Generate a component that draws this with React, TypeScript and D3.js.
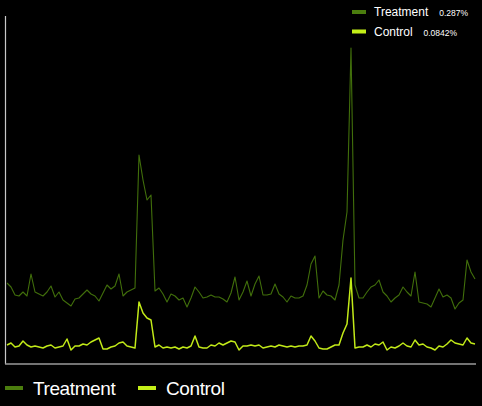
import React from "react";
import * as d3 from "d3";

const seriesNames = ["Treatment", "Control"];
const seriesColors = ["#4b7d0e", "#c4ef18"];
const lineColors = ["#416f0b", "#c2ea18"];
const hoverValues = ["0.287%", "0.0842%"];

const treatment = [
  0.080,0.076,0.068,0.067,0.071,0.067,0.089,0.071,0.069,0.067,
  0.071,0.077,0.066,0.071,0.063,0.060,0.057,0.064,0.065,0.069,
  0.073,0.069,0.067,0.062,0.070,0.078,0.074,0.077,0.089,0.067,
  0.071,0.073,0.075,0.208,0.183,0.163,0.168,0.072,0.075,0.069,
  0.061,0.069,0.067,0.063,0.065,0.056,0.065,0.076,0.071,0.065,
  0.066,0.068,0.066,0.066,0.064,0.061,0.070,0.086,0.063,0.071,
  0.082,0.067,0.079,0.087,0.068,0.068,0.069,0.079,0.069,0.066,
  0.061,0.067,0.065,0.065,0.067,0.078,0.099,0.107,0.065,0.072,
  0.068,0.067,0.063,0.078,0.123,0.151,0.315,0.078,0.065,0.065,
  0.071,0.076,0.078,0.083,0.071,0.067,0.061,0.065,0.068,0.076,
  0.071,0.067,0.091,0.061,0.060,0.059,0.056,0.065,0.074,0.066,
  0.068,0.065,0.054,0.060,0.063,0.103,0.091,0.084,
];

const control = [
  0.018,0.020,0.016,0.017,0.022,0.018,0.016,0.017,0.016,0.015,
  0.017,0.018,0.015,0.016,0.017,0.024,0.013,0.017,0.017,0.019,
  0.018,0.021,0.023,0.025,0.014,0.014,0.016,0.017,0.020,0.021,
  0.017,0.016,0.015,0.061,0.050,0.045,0.043,0.016,0.018,0.015,
  0.016,0.015,0.016,0.014,0.016,0.015,0.017,0.027,0.016,0.015,
  0.015,0.018,0.017,0.020,0.018,0.020,0.022,0.021,0.013,0.017,
  0.017,0.018,0.017,0.018,0.015,0.016,0.017,0.016,0.018,0.017,
  0.016,0.017,0.016,0.017,0.017,0.018,0.027,0.022,0.015,0.014,
  0.014,0.016,0.018,0.018,0.030,0.039,0.085,0.015,0.016,0.016,
  0.018,0.016,0.019,0.018,0.021,0.013,0.016,0.015,0.017,0.020,
  0.017,0.016,0.023,0.018,0.019,0.016,0.015,0.013,0.017,0.016,
  0.019,0.023,0.020,0.019,0.018,0.025,0.020,0.019,
];

const W = 482;
const H = 406;
const FONT = "'Liberation Sans', Arial, Helvetica, sans-serif";

export default function App() {
  const n = treatment.length;
  const x = d3.scaleLinear().domain([0, n - 1]).range([7, 475]);
  const y = d3.scaleLinear().domain([0, 0.347]).range([363, 16]);
  const line = d3
    .line<number>()
    .x((_, i) => x(i))
    .y((d) => y(d));

  const data = [treatment, control];
  const widths = [1.1, 1.5];

  return (
    <svg
      width={W}
      height={H}
      style={{ position: "absolute", left: 0, top: 0, background: "#000" }}
    >
      <rect x={0} y={0} width={W} height={H} fill="#000" />
      <line x1={5.5} x2={5.5} y1={16} y2={364} stroke="#c8c8c8" strokeWidth={1.2} />
      <line x1={5} x2={476} y1={364} y2={364} stroke="#9a9a9a" strokeWidth={1.5} />
      {[1, 0].map((k) => (
        <path
          key={k}
          d={line(data[k]) || ""}
          fill="none"
          stroke={lineColors[k]}
          strokeWidth={widths[k]}
          strokeLinejoin="round"
        />
      ))}
      {seriesNames.map((name, k) => (
        <g key={name} transform={`translate(352, ${10 + k * 19.5})`}>
          <rect x={0} y={0} width={14} height={4} fill={seriesColors[k]} />
          <text x={22} y={6} fontFamily={FONT} fontSize={12} fill="#fff">
            {name}
          </text>
        </g>
      ))}
      <text x={468} y={16} fontFamily={FONT} fontSize={8.5} fill="#fff" textAnchor="end">
        {hoverValues[0]}
      </text>
      <text x={457} y={35.5} fontFamily={FONT} fontSize={8.5} fill="#fff" textAnchor="end">
        {hoverValues[1]}
      </text>
      {seriesNames.map((name, k) => (
        <g key={"b" + name} transform={`translate(${k === 0 ? 5 : 138}, 386)`}>
          <rect x={0} y={0} width={18} height={4} fill={seriesColors[k]} />
          <text
            x={28}
            y={9}
            fontFamily={FONT}
            fontSize={19}
            letterSpacing={-0.4}
            fill="#fff"
          >
            {name}
          </text>
        </g>
      ))}
    </svg>
  );
}
